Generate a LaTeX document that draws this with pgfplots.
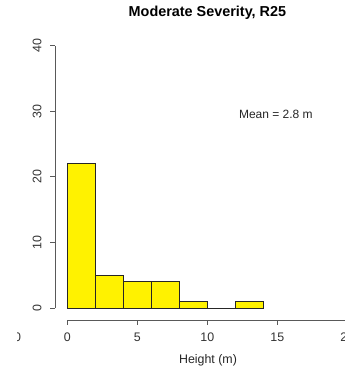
\documentclass[border=0pt]{standalone}
\usepackage{fontspec}
\setmainfont{Liberation Sans}
\usepackage{pgfplots}
\pgfplotsset{compat=1.18}
\begin{document}
\begin{tikzpicture}
\begin{axis}[
  scale only axis,
  width=258pt, height=278.25pt,
  xmin=-4.807, xmax=19.764,
  ymin=-9.60, ymax=46.95,
  axis line style={draw=none},
  ticks=none,
  clip=false,
]
\addplot[ybar interval, fill=yellow, draw=black!85, line width=0.6pt]
  coordinates {(0,22) (2,5) (4,4) (6,4) (8,1) (10,0) (12,1) (14,1)};
% y axis (R style, detached)
\draw[black!65, line width=0.7pt] (axis cs:-0.879,0) -- (axis cs:-0.879,40);
\pgfplotsinvokeforeach{0,10,20,30,40}{
  \draw[black!65, line width=0.7pt] (axis cs:-0.879,#1) -- (axis cs:-1.236,#1);
  \node[rotate=90, font=\fontsize{9.3}{10}\selectfont, text=black!80] at (axis cs:-2.164,#1) {#1};
}
% x axis
\draw[black!65, line width=0.7pt] (axis cs:0,-1.829) -- (axis cs:20,-1.829);
\pgfplotsinvokeforeach{0,5,10,15,20}{
  \draw[black!65, line width=0.7pt] (axis cs:#1,-1.829) -- (axis cs:#1,-2.515);
  \node[font=\fontsize{9.3}{10}\selectfont, text=black!80] at (axis cs:#1,-4.42) {#1};
}
% fragment of a neighbouring panel's label at the left
\begin{scope}
  \clip (axis cs:-3.529,-6) rectangle (axis cs:-3.2,-3);
  \node[font=\fontsize{9.3}{10}\selectfont, text=black!80] at (axis cs:-3.557,-4.42) {0};
\end{scope}
\node[font=\fontsize{9.3}{10}\selectfont, text=black!85] at (axis cs:10.05,-7.93) {Height (m)};
\node[font=\bfseries\fontsize{10.8}{12}\selectfont, text=black] at (axis cs:10.01,45.05) {Moderate Severity, R25};
\node[font=\fontsize{9}{10}\selectfont, text=black!85] at (axis cs:14.9,29.5) {Mean = 2.8 m};
\end{axis}
\pgfresetboundingbox
\path[use as bounding box] (current axis.south west) rectangle (current axis.north east);
\end{tikzpicture}
\end{document}
